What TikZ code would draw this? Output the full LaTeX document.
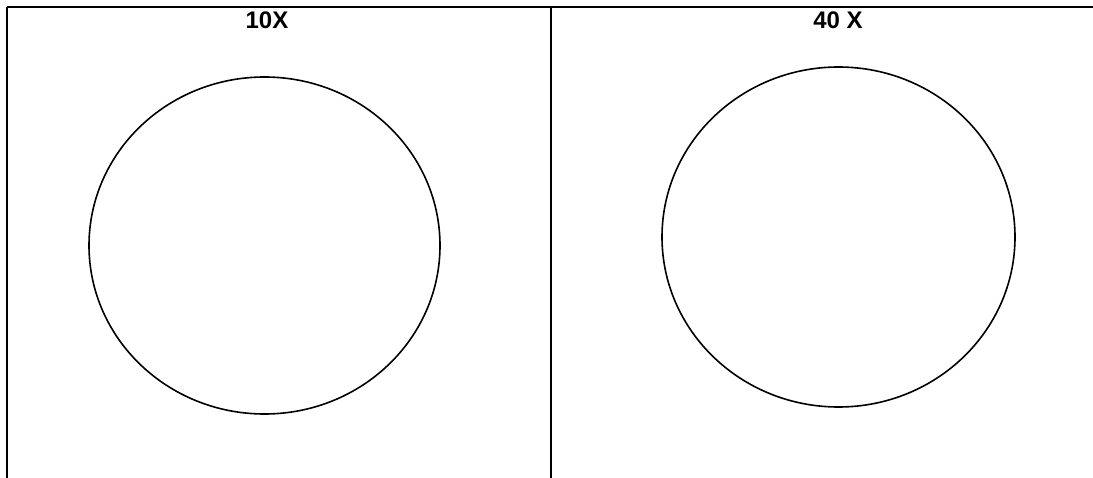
\documentclass[tikz,border=0pt]{standalone}
\usepackage{fontspec}
\setmainfont{Liberation Sans}
\usepackage{tikz}
\usetikzlibrary{positioning}

\begin{document}
\begin{tikzpicture}[
    x=1pt, y=-1pt,
    frame/.style={line width=2pt, black},
    lens/.style={line width=1.6pt, black},
    title/.style={font=\fontsize{24}{28}\selectfont\bfseries, inner sep=0pt, anchor=north},
]
    \useasboundingbox (0,0) rectangle (1093,478);

    % Table frame
    \draw[frame] (7,7) -- (1093,7);
    \draw[frame] (7,7) -- (7,478);
    \draw[frame] (551,7) -- (551,478);

    % Column titles
    \node[title] (low) at (267,12) {10X};
    \node[title] (high) at (838,12) {40 X};

    % Fields of view
    \draw[lens] (264.5,245.5) ellipse [x radius=175.5, y radius=168.5];
    \draw[lens] (838.5,237) ellipse [x radius=176.5, y radius=170];
\end{tikzpicture}
\end{document}
